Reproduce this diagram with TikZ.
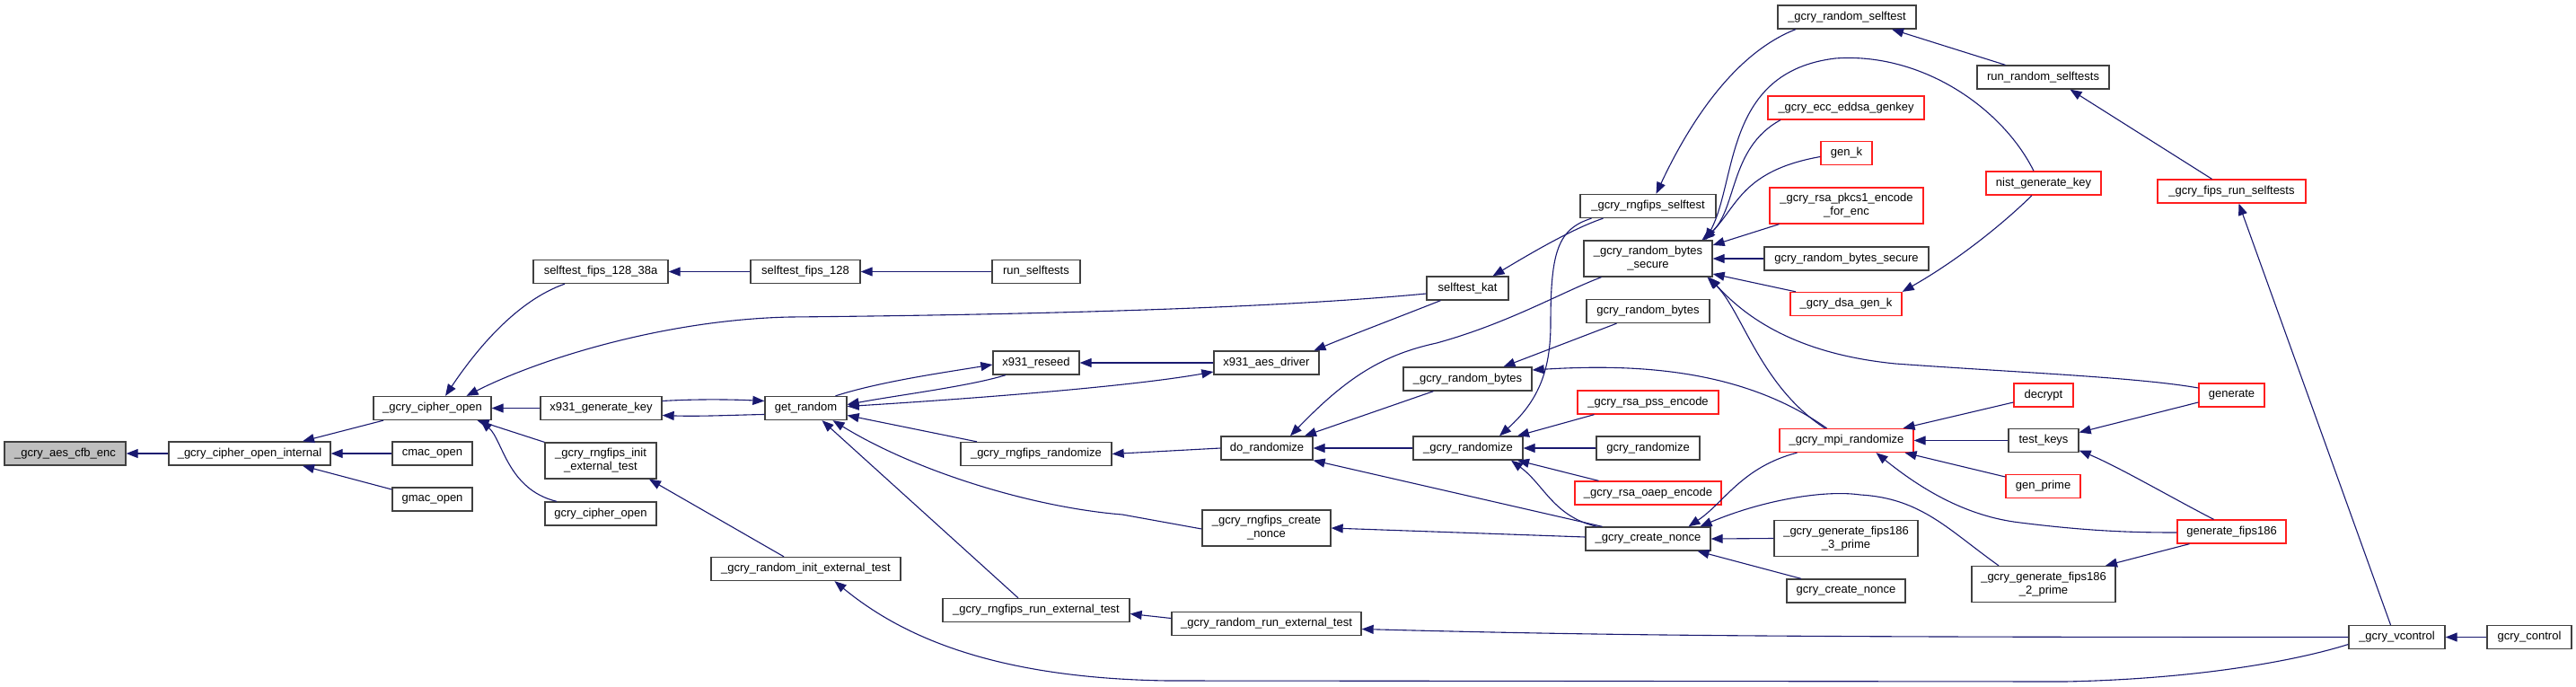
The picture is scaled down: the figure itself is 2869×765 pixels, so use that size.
\documentclass[tikz,border=0pt]{standalone}
\usepackage{fontspec}
\setmainfont{Liberation Sans}
\usetikzlibrary{arrows.meta}
\definecolor{mb}{RGB}{25,25,112}
\definecolor{bd}{RGB}{64,64,64}
\definecolor{rd}{RGB}{255,30,30}
\definecolor{gy}{RGB}{191,191,191}
\begin{document}
\begin{tikzpicture}[x=1pt,y=-1pt,
 nd/.style={draw=bd, fill=white, line width=1.3pt, inner sep=0pt, minimum height=26pt, align=center, font=\fontsize{13}{15}\selectfont},
 two/.style={minimum height=40pt},
 rn/.style={draw=rd},
 e/.style={draw=mb, line width=1.1pt, {Triangle[length=13pt,width=10pt]}-},
 eb/.style={draw=mb, line width=1.1pt, {Triangle[length=13pt,width=10pt]}-{Triangle[length=13pt,width=10pt]}}]
\fill[white] (0,0) rectangle (2869,765);
\useasboundingbox (0,0) rectangle (2869,765);
% nodes
\node[nd, fill=gy, minimum width=135pt] (aes) at (72.5,505) {\_gcry\_aes\_cfb\_enc};
\node[nd, minimum width=180pt] (coi) at (278,505) {\_gcry\_cipher\_open\_internal};
\node[nd, minimum width=131pt] (co) at (481.5,454.5) {\_gcry\_cipher\_open};
\node[nd, minimum width=89pt] (cmac) at (481.5,505) {cmac\_open};
\node[nd, minimum width=89pt] (gmac) at (481.5,556) {gmac\_open};
\node[nd, minimum width=150pt] (s38a) at (669,302.5) {selftest\_fips\_128\_38a};
\node[nd, minimum width=135pt] (xgk) at (669.5,454.5) {x931\_generate\_key};
\node[nd, two, minimum width=124pt] (rie) at (669,513) {\_gcry\_rngfips\_init\\\_external\_test};
\node[nd, minimum width=124pt] (gco) at (669,572) {gcry\_cipher\_open};
\node[nd, minimum width=122pt] (s128) at (897,302.5) {selftest\_fips\_128};
\node[nd, minimum width=91pt] (gr) at (897.5,454.5) {get\_random};
\node[nd, minimum width=211pt] (rinit) at (897.5,633.5) {\_gcry\_random\_init\_external\_test};
\node[nd, minimum width=98pt] (runst) at (1154,302.5) {run\_selftests};
\node[nd, minimum width=96pt] (xr) at (1154,404) {x931\_reseed};
\node[nd, minimum width=168pt] (rr) at (1154,505.5) {\_gcry\_rngfips\_randomize};
\node[nd, minimum width=208pt] (rret) at (1154,679.5) {\_gcry\_rngfips\_run\_external\_test};
\node[nd, minimum width=91pt] (kat) at (1634.5,321) {selftest\_kat};
\node[nd, minimum width=117pt] (xad) at (1410.5,404) {x931\_aes\_driver};
\node[nd, minimum width=102pt] (dr) at (1411,499) {do\_randomize};
\node[nd, two, minimum width=143pt] (rcn) at (1410.5,588) {\_gcry\_rngfips\_create\\\_nonce};
\node[nd, minimum width=211pt] (rrun) at (1410.5,694.5) {\_gcry\_random\_run\_external\_test};
\node[nd, minimum width=143pt] (grb) at (1634.5,422) {\_gcry\_random\_bytes};
\node[nd, minimum width=122pt] (grz) at (1635,499) {\_gcry\_randomize};
\node[nd, minimum width=139pt] (cn) at (1835.5,600) {\_gcry\_create\_nonce};
\node[nd, minimum width=151pt] (rs) at (1835.5,229.5) {\_gcry\_rngfips\_selftest};
\node[nd, two, minimum width=143pt] (rbs) at (1835.5,288) {\_gcry\_random\_bytes\\\_secure};
\node[nd, minimum width=137pt] (grbytes) at (1835.5,346.5) {gcry\_random\_bytes};
\node[nd, rn, minimum width=157pt] (pss) at (1835.5,448) {\_gcry\_rsa\_pss\_encode};
\node[nd, minimum width=115pt] (grandomize) at (1835.5,499) {gcry\_randomize};
\node[nd, rn, minimum width=163pt] (oaep) at (1835.5,549) {\_gcry\_rsa\_oaep\_encode};
\node[nd, minimum width=154pt] (rst) at (2057,19) {\_gcry\_random\_selftest};
\node[nd, rn, minimum width=174pt] (ecc) at (2056,120) {\_gcry\_ecc\_eddsa\_genkey};
\node[nd, rn, minimum width=57pt] (genk) at (2056.5,170.5) {gen\_k};
\node[nd, rn, two, minimum width=171pt] (pkcs) at (2056.5,229) {\_gcry\_rsa\_pkcs1\_encode\\\_for\_enc};
\node[nd, minimum width=183pt] (grbs) at (2056.5,288) {gcry\_random\_bytes\_secure};
\node[nd, rn, minimum width=124pt] (dsa) at (2056,338.5) {\_gcry\_dsa\_gen\_k};
\node[nd, rn, minimum width=149pt] (mpi) at (2056.5,490.5) {\_gcry\_mpi\_randomize};
\node[nd, two, minimum width=160pt] (f3) at (2056,599.5) {\_gcry\_generate\_fips186\\\_3\_prime};
\node[nd, minimum width=132pt] (gcn) at (2056,658) {gcry\_create\_nonce};
\node[nd, minimum width=147pt] (rrs) at (2275.5,86) {run\_random\_selftests};
\node[nd, rn, minimum width=128pt] (nist) at (2276,204) {nist\_generate\_key};
\node[nd, rn, minimum width=66pt] (decrypt) at (2276,440) {decrypt};
\node[nd, minimum width=78pt] (tk) at (2276,490.5) {test\_keys};
\node[nd, rn, minimum width=83pt] (gp) at (2275.5,541.5) {gen\_prime};
\node[nd, two, minimum width=160pt] (f2) at (2276,650.5) {\_gcry\_generate\_fips186\\\_2\_prime};
\node[nd, rn, minimum width=165pt] (frs) at (2485.5,213) {\_gcry\_fips\_run\_selftests};
\node[nd, rn, minimum width=73pt] (gen) at (2485.5,440) {generate};
\node[nd, rn, minimum width=121pt] (gf) at (2485.5,592) {generate\_fips186};
\node[nd, minimum width=107pt] (vc) at (2669.5,709.5) {\_gcry\_vcontrol};
\node[nd, minimum width=94pt] (gc) at (2817,709.5) {gcry\_control};
% edges
\draw[e] (aes.east) -- (coi.west);
\draw[e] ([xshift=59pt]coi.north) -- ([xshift=-54.5pt]co.south);
\draw[e] (coi.east) -- (cmac.west);
\draw[e] ([xshift=59pt]coi.south) -- ([yshift=11pt]gmac.west);
\draw[e] ([xshift=14.5pt]co.north) .. controls (530,390) and (575,335) .. ([xshift=-40pt]s38a.south);
\draw[e] ([xshift=38pt]co.north) .. controls (600,400) and (740,356) .. (880,353) .. controls (1100,351) and (1400,345) .. ([yshift=-6pt]kat.west);
\draw[e] (co.east) -- (xgk.west);
\draw[e] ([xshift=50pt]co.south) -- (rie.north west);
\draw[e] ([xshift=53.5pt]co.south) .. controls (560,490) and (565,545) .. ([xshift=-49pt]gco.north);
\draw[e] (s38a.east) -- (s128.west);
\draw[e] (s128.east) -- (runst.west);
\draw[e] ([yshift=-8pt]xgk.east) .. controls (780,464) and (820,462) .. ([yshift=-7pt]gr.west);
\draw[e] ([yshift=8pt]gr.west) .. controls (820,445) and (780,444) .. ([yshift=8pt]xgk.east);
\draw[e] ([yshift=-2pt]xr.west) .. controls (1050,415) and (980,425) .. ([xshift=33pt]gr.north);
\draw[e] ([yshift=4pt]gr.east) .. controls (1000,440) and (1080,430) .. ([xshift=-34pt]xr.south);
\draw[eb] ([yshift=2pt]gr.east) .. controls (1050,446) and (1250,432) .. ([yshift=-10pt]xad.west);
\draw[e] (xr.east) -- (xad.west);
\draw[e] ([yshift=-8pt]gr.east) -- ([xshift=-66pt]rr.north);
\draw[e] ([xshift=30pt]gr.south) .. controls (1020,525) and (1150,565) .. (1250,573) -- ([yshift=-1pt]rcn.west);
\draw[e] ([xshift=18pt]gr.south) -- ([xshift=-20pt]rret.north);
\draw[e] ([xshift=54pt]rie.south) -- ([xshift=-24.5pt]rinit.north);
\draw[e] ([xshift=32pt]rinit.south) .. controls (1000,705) and (1100,755) .. (1300,758) -- (2300,759) .. controls (2450,756) and (2560,735) .. ([yshift=-8pt]vc.west);
\draw[e] ([yshift=-4pt]rret.east) -- ([yshift=6pt]rrun.west);
\draw[e] ([yshift=-6pt]rrun.east) .. controls (1800,708) and (2000,709.5) .. (vc.west);
\draw[e] (vc.east) -- (gc.west);
\draw[e] ([xshift=8pt]frs.south) -- ([xshift=-7pt]vc.north);
\draw[e] ([xshift=30pt]rrs.south) -- ([xshift=-22pt]frs.north);
\draw[e] ([xshift=50pt]rst.south) -- ([xshift=-42pt]rrs.north);
\draw[e] ([xshift=9pt]rs.north) .. controls (1880,140) and (1930,60) .. ([xshift=-57pt]rst.south);
\draw[e] ([xshift=28pt]kat.north) .. controls (1700,285) and (1750,255) .. ([xshift=-50pt]rs.south);
\draw[e] ([xshift=53pt]xad.north) .. controls (1500,375) and (1540,360) .. ([xshift=-30pt]kat.south);
\draw[e] ([xshift=35pt]grz.north) .. controls (1715,445) and (1727,410) .. (1727,360) .. controls (1727,280) and (1735,255) .. ([xshift=-63pt]rs.south);
\draw[e] ([xshift=26pt]dr.north) .. controls (1500,420) and (1540,395) .. (1600,382) .. controls (1680,360) and (1740,325) .. ([xshift=-52pt]rbs.south);
\draw[e] ([xshift=42pt]dr.north) -- ([xshift=-38pt]grb.south);
\draw[e] (dr.east) -- (grz.west);
\draw[e] (dr.south east) -- ([xshift=-51pt]cn.north);
\draw[e] (rr.east) -- (dr.west);
\draw[e] ([xshift=40pt]grb.north) -- ([xshift=-35pt]grbytes.south);
\draw[e] ([yshift=10pt]grb.east) .. controls (1820,405) and (1940,410) .. ([xshift=-22pt]mpi.north);
\draw[e] ([xshift=66pt]rbs.south) .. controls (1940,345) and (1960,430) .. ([xshift=-24pt]mpi.north);
\draw[e] ([xshift=60pt]rbs.north) .. controls (1935,235) and (1925,165) .. ([xshift=-73pt]ecc.south);
\draw[e] ([xshift=62pt]rbs.north) .. controls (1935,230) and (1940,190) .. ([yshift=-4pt]genk.west);
\draw[e] ([yshift=15pt]rbs.east) -- ([xshift=-75pt]pkcs.south);
\draw[e] (rbs.east) -- (grbs.west);
\draw[e] ([yshift=-17pt]rbs.east) -- ([xshift=-56pt]dsa.north);
\draw[e] ([xshift=64pt]rbs.north) .. controls (1935,200) and (1920,80) .. (2044,65) .. controls (2140,58) and (2230,120) .. ([xshift=-11pt]nist.north);
\draw[e] ([xshift=68pt]rbs.south) .. controls (1950,360) and (2010,395) .. (2111,405) .. controls (2250,415) and (2380,420) .. ([yshift=8pt]gen.west);
\draw[e] ([xshift=55pt]grz.north) -- ([xshift=-60pt]pss.south);
\draw[e] (grz.east) -- (grandomize.west);
\draw[e] ([xshift=55pt]grz.south) -- ([xshift=-55pt]oaep.north);
\draw[e] ([xshift=48pt]grz.south) .. controls (1720,540) and (1730,575) .. ([xshift=-57pt]cn.north);
\draw[e] (rcn.east) -- ([yshift=2pt]cn.west);
\draw[e] ([xshift=45pt]cn.north) .. controls (1920,560) and (1940,520) .. ([xshift=-55pt]mpi.south);
\draw[e] ([xshift=58pt]cn.north) .. controls (1960,558) and (2030,545) .. (2072,551) .. controls (2140,555) and (2170,590) .. ([xshift=-50pt]f2.north);
\draw[e] (cn.east) -- (f3.west);
\draw[e] ([xshift=55pt]cn.south) -- ([xshift=-50pt]gcn.north);
\draw[e] ([xshift=63pt]mpi.north) -- ([yshift=-8pt]decrypt.west);
\draw[e] (mpi.east) -- (tk.west);
\draw[e] ([xshift=65pt]mpi.south) -- ([yshift=10.5pt]gp.west);
\draw[e] ([xshift=33pt]mpi.south) .. controls (2140,545) and (2190,575) .. (2250,582) .. controls (2330,592) and (2380,593) .. ([yshift=-1pt]gf.west);
\draw[e] ([yshift=9pt]tk.east) -- ([yshift=-8pt]gen.west);
\draw[e] ([yshift=-11pt]tk.east) .. controls (2360,520) and (2420,555) .. ([xshift=-20pt]gf.north);
\draw[e] ([xshift=69pt]f2.north) -- ([xshift=-47pt]gf.south);
\draw[e] (dsa.north east) .. controls (2180,290) and (2230,250) .. ([xshift=-13pt]nist.south);
\end{tikzpicture}
\end{document}
